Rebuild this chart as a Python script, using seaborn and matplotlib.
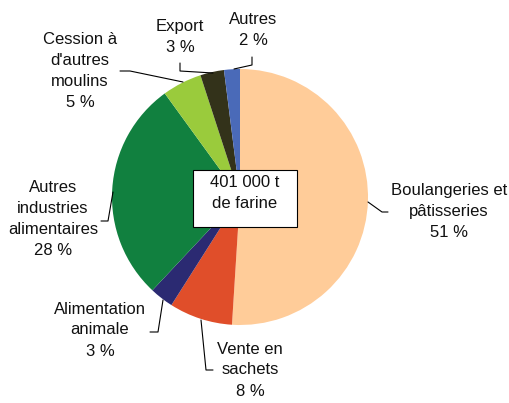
import matplotlib
matplotlib.use("Agg")
import matplotlib.pyplot as plt
import seaborn as sns
from matplotlib.patches import Rectangle

# --- data ---
categories = ["Boulangeries et\npâtisseries", "Vente en\nsachets", "Alimentation\nanimale",
              "Autres\nindustries\nalimentaires", "Cession à\nd'autres\nmoulins", "Export", "Autres"]
shares = [51, 8, 3, 28, 5, 3, 2]
colors = ["#FFCC99", "#E04E2A", "#2B2A72", "#11803F", "#9ACB3C", "#33321A", "#4A6AB8"]
total_label = "401 000 t\nde farine"

# --- layout (pixel coords, y from top) ---
W, H = 510, 403
center_px = (240, 197)
radius = 128
label_pos = [(449, 212), (250, 370), (100, 330), (53, 219), (80, 71), (180, 37), (253, 30)]
leaders = [
    [(368, 202), (382, 212), (388, 212)],
    [(201, 320), (206, 370), (213, 370)],
    [(163, 300), (158, 332), (150, 332)],
    [(113, 192), (108, 221), (101, 221)],
    [(183, 82), (130, 71), (120, 71)],
    [(213, 73), (180, 71), (180, 63)],
    [(234, 69), (252, 65), (252, 57)],
]

sns.set_theme(style="white")
plt.rcParams["font.family"] = ["Liberation Sans", "DejaVu Sans"]

fig = plt.figure(figsize=(W / 100, H / 100), dpi=100)
ax = fig.add_axes([0, 0, 1, 1])

ax.pie(shares, colors=colors, startangle=90, counterclock=False,
       center=(center_px[0], H - center_px[1]), radius=radius,
       wedgeprops=dict(linewidth=0), frame=True)
ax.set_xlim(0, W)
ax.set_ylim(0, H)
ax.set_aspect("equal")
ax.axis("off")

for name, val, (lx, ly), path in zip(categories, shares, label_pos, leaders):
    ax.text(lx, H - ly, f"{name}\n{val} %", ha="center", va="center",
            fontsize=12, color="#111111", linespacing=1.5)
    ax.plot([p[0] for p in path], [H - p[1] for p in path], color="black", lw=0.8)

# total box in the middle of the pie
ax.add_patch(Rectangle((193, H - 227), 104, 57, facecolor="white", edgecolor="black", lw=0.8, zorder=3))
ax.text(245, H - 193, total_label, ha="center", va="center", fontsize=12,
        color="#111111", linespacing=1.5, zorder=4)

fig.savefig("out.png", dpi=100)
